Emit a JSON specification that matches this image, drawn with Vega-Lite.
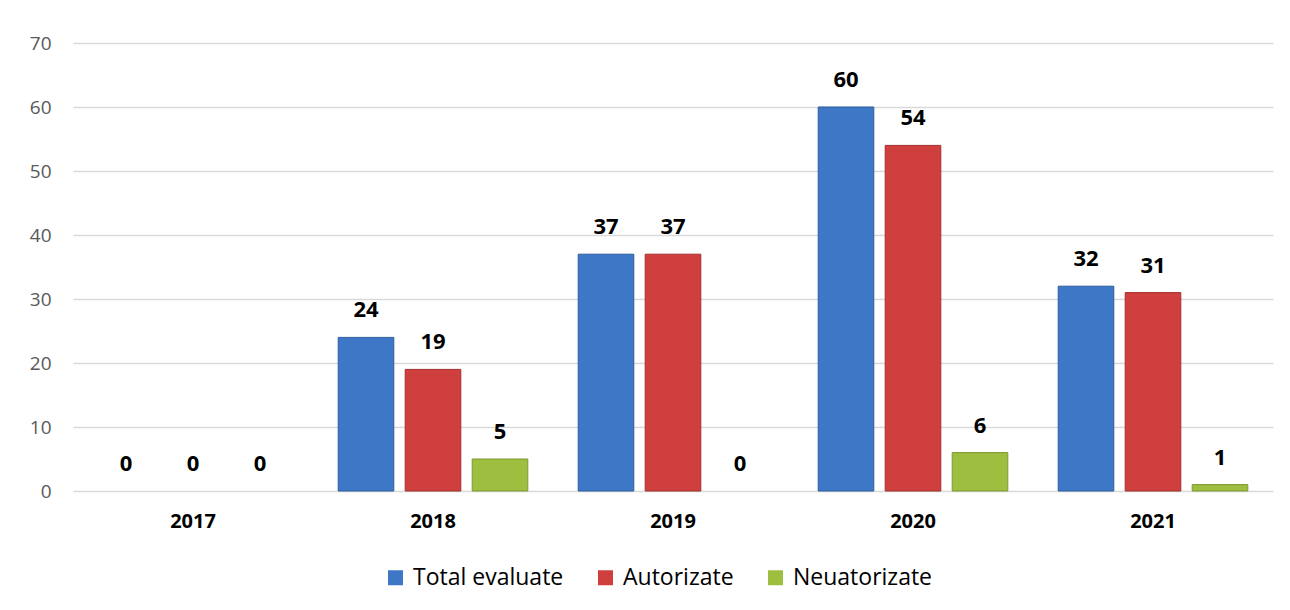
{
  "$schema": "https://vega.github.io/schema/vega-lite/v6.json",
  "width": 1200,
  "height": 448,
  "autosize": "none",
  "padding": {"left": 73, "top": 43, "right": 17, "bottom": 119},
  "background": "white",
  "config": {"view": {"stroke": null}, "font": "Open Sans"},
  "data": {
    "values": [
      {"year": "2017", "series": "Total evaluate", "value": 0},
      {"year": "2017", "series": "Autorizate", "value": 0},
      {"year": "2017", "series": "Neuatorizate", "value": 0},
      {"year": "2018", "series": "Total evaluate", "value": 24},
      {"year": "2018", "series": "Autorizate", "value": 19},
      {"year": "2018", "series": "Neuatorizate", "value": 5},
      {"year": "2019", "series": "Total evaluate", "value": 37},
      {"year": "2019", "series": "Autorizate", "value": 37},
      {"year": "2019", "series": "Neuatorizate", "value": 0},
      {"year": "2020", "series": "Total evaluate", "value": 60},
      {"year": "2020", "series": "Autorizate", "value": 54},
      {"year": "2020", "series": "Neuatorizate", "value": 6},
      {"year": "2021", "series": "Total evaluate", "value": 32},
      {"year": "2021", "series": "Autorizate", "value": 31},
      {"year": "2021", "series": "Neuatorizate", "value": 1}
    ]
  },
  "encoding": {
    "x": {
      "field": "year", "type": "nominal", "title": null,
      "scale": {"paddingInner": 0.21, "paddingOuter": 0.105},
      "axis": {"labelAngle": 0, "labelFontWeight": "bold", "labelFontSize": 20, "labelColor": "#000000", "labelPadding": 20, "domain": false, "ticks": false}
    },
    "xOffset": {"field": "series", "type": "nominal", "sort": ["Total evaluate", "Autorizate", "Neuatorizate"], "scale": {"paddingInner": 0.17, "paddingOuter": 0}},
    "y": {
      "field": "value", "type": "quantitative", "title": null,
      "scale": {"domain": [0, 70]},
      "axis": {"values": [0, 10, 20, 30, 40, 50, 60, 70], "labelFontSize": 19, "labelColor": "#595959", "labelPadding": 22, "domain": false, "ticks": false, "gridColor": "#d9d9d9", "gridWidth": 1.5}
    }
  },
  "layer": [
    {
      "mark": {"type": "bar", "strokeWidth": 1},
      "encoding": {
        "color": {
          "field": "series", "type": "nominal", "sort": ["Total evaluate", "Autorizate", "Neuatorizate"],
          "scale": {"domain": ["Total evaluate", "Autorizate", "Neuatorizate"], "range": ["#3d77c6", "#cf3f3d", "#9dbe3e"]},
          "legend": {"title": null, "orient": "none", "legendX": 311, "legendY": 523, "direction": "horizontal", "symbolType": "square", "symbolSize": 225, "symbolStrokeWidth": 0, "labelFontSize": 23, "labelColor": "#000000", "columnPadding": 30, "labelOffset": 6}
        },
        "stroke": {
          "field": "series", "type": "nominal",
          "scale": {"domain": ["Total evaluate", "Autorizate", "Neuatorizate"], "range": ["#2e5e9e", "#a3302e", "#7c9830"]},
          "legend": null
        },
        "strokeOpacity": {"condition": {"test": "datum.value == 0", "value": 0}, "value": 1}
      }
    },
    {
      "mark": {"type": "text", "baseline": "alphabetic", "dy": -20, "fontSize": 22, "fontWeight": "bold", "color": "#000000"},
      "encoding": {"text": {"field": "value", "type": "quantitative"}}
    }
  ]
}
